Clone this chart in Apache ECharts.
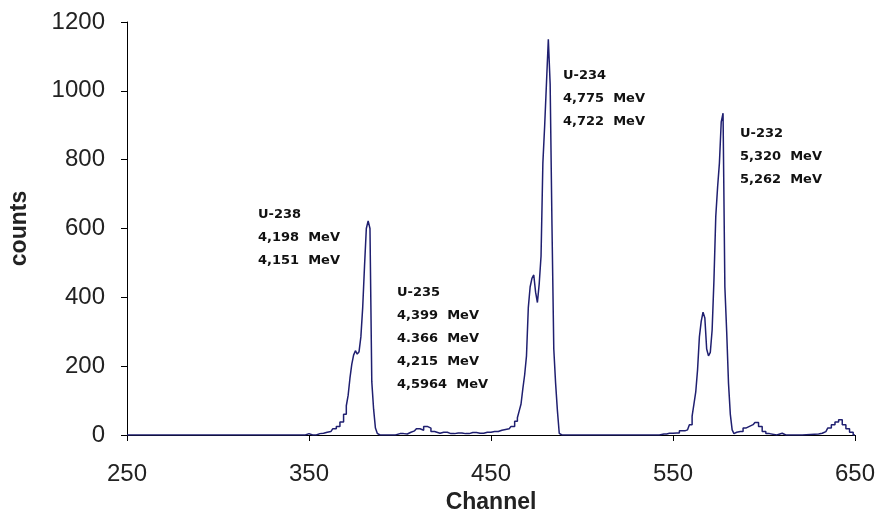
<!DOCTYPE html>
<html>
<head>
<meta charset="utf-8">
<script src="https://cdn.jsdelivr.net/npm/echarts@6/dist/echarts.min.js"></script>
<style>
  html, body { margin: 0; padding: 0; background: #fff; }
  #chart { width: 881px; height: 529px; }
</style>
</head>
<body>
<div id="chart"></div>
<script>
// spectrum: channel -> counts
const channels = [
  250, 348, 350, 352, 356, 358, 360, 362, 364, 366, 368, 370, 371, 372, 373, 374, 375, 376, 377, 378,
  379, 380, 381, 382, 383, 384, 385, 386, 387, 388, 389, 395, 400, 404, 406, 408, 410, 412, 414, 416,
  418, 420, 424, 428, 432, 436, 440, 444, 448, 452, 456, 458, 460, 462, 464, 465, 466, 467, 468, 469,
  470, 471, 472, 473, 474, 475, 476, 477, 478, 479, 480, 481, 482, 483, 484, 485, 486, 487, 488, 489,
  540, 545, 548, 552, 555, 558, 560, 561, 562, 563, 564, 565, 566, 567, 568, 569, 570, 571, 572, 573,
  574, 575, 576, 577, 578, 579, 580, 581, 582, 583, 584, 585, 587, 590, 592, 594, 596, 598, 600, 602,
  604, 610, 612, 630, 632, 634, 636, 638, 640, 642, 644, 646, 648, 650
];
const counts = [
  0, 0, 4, 0, 4, 5, 8, 10, 18, 25, 38, 60, 85, 115, 165, 205, 232, 245, 235, 242,
  285, 370, 490, 600, 622, 600, 155, 75, 20, 5, 0, 0, 4, 3, 8, 12, 18, 14, 25, 20,
  10, 5, 8, 4, 6, 4, 7, 5, 8, 10, 14, 16, 18, 25, 40, 50, 70, 90, 135, 175,
  230, 370, 430, 455, 465, 415, 385, 440, 520, 790, 900, 1025, 1150, 1020, 610, 250, 150, 70, 5, 0,
  0, 3, 5, 6, 12, 15, 30, 55, 90, 125, 190, 285, 330, 357, 340, 250, 230, 240, 305, 450,
  635, 720, 790, 910, 935, 430, 300, 150, 60, 15, 4, 8, 10, 20, 25, 30, 36, 25, 10, 4,
  0, 5, 0, 3, 5, 10, 20, 30, 38, 44, 30, 18, 8, 0
];

const xTicks = [250, 350, 450, 550, 650];
const yTicks = [0, 200, 400, 600, 800, 1000, 1200];

const notes = [
  { lines: ['U-238', '4,198  MeV', '4,151  MeV'], left: 258, top: 203 },
  { lines: ['U-235', '4,399  MeV', '4.366  MeV', '4,215  MeV', '4,5964  MeV'], left: 397, top: 281 },
  { lines: ['U-234', '4,775  MeV', '4,722  MeV'], left: 563, top: 64 },
  { lines: ['U-232', '5,320  MeV', '5,262  MeV'], left: 740, top: 122 },
];

const series = channels.map((c, i) => [c, counts[i]]);

const chart = echarts.init(document.getElementById('chart'), null, { renderer: 'canvas' });

const tickText = { color: '#222', fontFamily: '"Liberation Sans", Arial, sans-serif', fontSize: 24 };
const titleText = { color: '#222', fontFamily: '"Liberation Sans", Arial, sans-serif', fontSize: 23, fontWeight: 'bold' };

chart.setOption({
  animation: false,
  grid: { left: 127, right: 26, top: 22, bottom: 94 },
  xAxis: {
    type: 'value',
    min: xTicks[0],
    max: xTicks[xTicks.length - 1],
    name: 'Channel',
    nameLocation: 'middle',
    nameGap: 48,
    nameTextStyle: titleText,
    axisLine: { onZero: false, lineStyle: { color: '#000', width: 1 } },
    axisTick: { customValues: xTicks, length: 6, lineStyle: { color: '#000' } },
    axisLabel: { customValues: xTicks, margin: 27, ...tickText },
    splitLine: { show: false },
  },
  yAxis: {
    type: 'value',
    min: yTicks[0],
    max: yTicks[yTicks.length - 1],
    interval: 200,
    name: 'counts',
    nameLocation: 'middle',
    nameGap: 96,
    nameTextStyle: titleText,
    axisLine: { show: true, lineStyle: { color: '#000', width: 1 } },
    axisTick: { show: true, length: 6, lineStyle: { color: '#000' } },
    axisLabel: { margin: 22, formatter: v => String(v), ...tickText },
    splitLine: { show: false },
  },
  graphic: notes.map(n => ({
    type: 'text',
    left: n.left,
    top: n.top,
    style: {
      text: n.lines.join('\n'),
      fill: '#111',
      font: 'bold 13px "DejaVu Sans", sans-serif',
      lineHeight: 23,
    },
  })),
  series: [{
    type: 'line',
    data: series,
    step: 'middle',
    showSymbol: false,
    lineStyle: { color: '#1f1f70', width: 1.5 },
  }],
});
</script>
</body>
</html>
